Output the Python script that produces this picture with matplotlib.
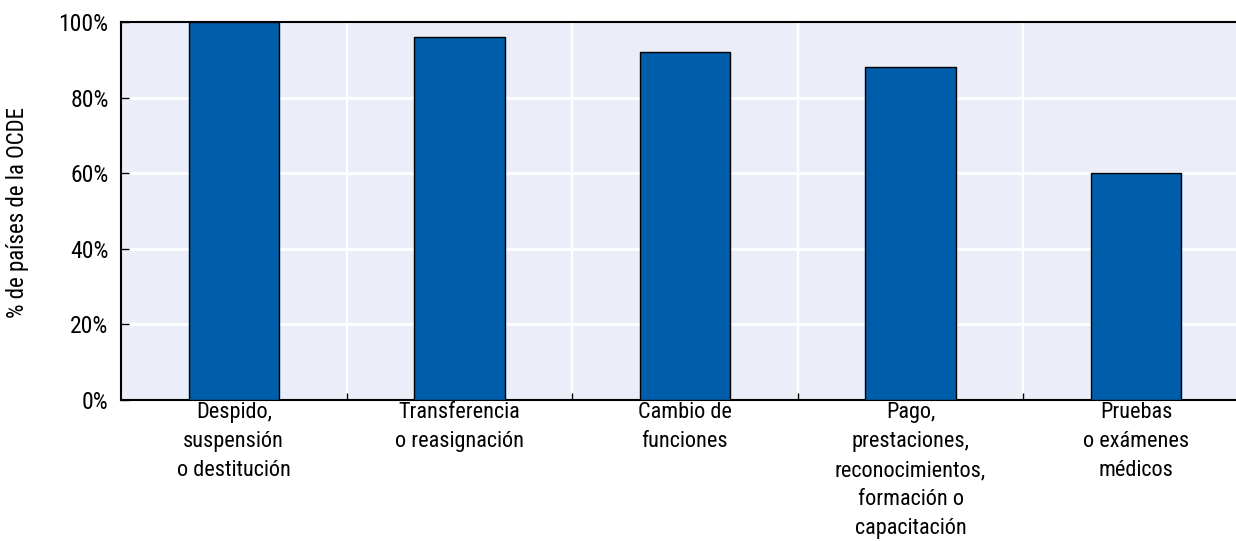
import matplotlib
matplotlib.use("Agg")
import matplotlib.pyplot as plt
from matplotlib import font_manager
import numpy as np

categories = [
    "Despido,\nsuspensión\no destitución",
    "Transferencia\no reasignación",
    "Cambio de\nfunciones",
    "Pago,\nprestaciones,\nreconocimientos,\nformación o\ncapacitación",
    "Pruebas\no exámenes\nmédicos",
]
values = [100, 96, 92, 88, 60]
y_ticks = [0, 20, 40, 60, 80, 100]
y_label = "% de países de la OCDE"

names = {f.name for f in font_manager.fontManager.ttflist}
family = [f for f in ["Liberation Sans Narrow", "Roboto Condensed", "Liberation Sans"] if f in names]
plt.rcParams["font.family"] = family + ["DejaVu Sans"]

W, H = 1236, 541
fig = plt.figure(figsize=(W / 100, H / 100), dpi=100)
left, right, top, bottom = 121, 1249, 22, 400
ax = fig.add_axes([left / W, 1 - bottom / H, (right - left) / W, (bottom - top) / H])

bg = "#EBEEF9"
bar_color = "#005DAA"
ax.set_facecolor(bg)

x = np.arange(len(categories))
ax.bar(x, values, width=0.4, color=bar_color, edgecolor="black", linewidth=1.0, zorder=3)

ax.set_xlim(-0.5, len(categories) - 0.5)
ax.set_ylim(0, 100)
ax.set_yticks(y_ticks)
ax.set_yticklabels([f"{v}%" for v in y_ticks], fontsize=17)

# horizontal white gridlines
for v in y_ticks[1:-1]:
    ax.axhline(v, color="white", linewidth=2, zorder=1)
# vertical white separators between categories
bounds = np.arange(len(categories) - 1) + 0.5
for b in bounds:
    ax.axvline(b, color="white", linewidth=1.6, zorder=1)

ax.set_xticks(bounds)
ax.set_xticklabels([])
ax.tick_params(axis="x", direction="in", length=5, width=1, color="black")
ax.tick_params(axis="y", direction="in", length=6, width=1, color="black", pad=9)

for xi, lab in zip(x, categories):
    ax.text(xi, -0.6, lab, ha="center", va="top", fontsize=16,
            linespacing=1.5, transform=ax.transData)

ax.spines["right"].set_visible(False)
for s in ["left", "bottom", "top"]:
    ax.spines[s].set_color("black")
    ax.spines[s].set_linewidth(1.5)

fig.text(18 / W, 1 - 213 / H, y_label, rotation=90, ha="center", va="center", fontsize=16.5)

fig.savefig("out.png", dpi=100, facecolor="white")
